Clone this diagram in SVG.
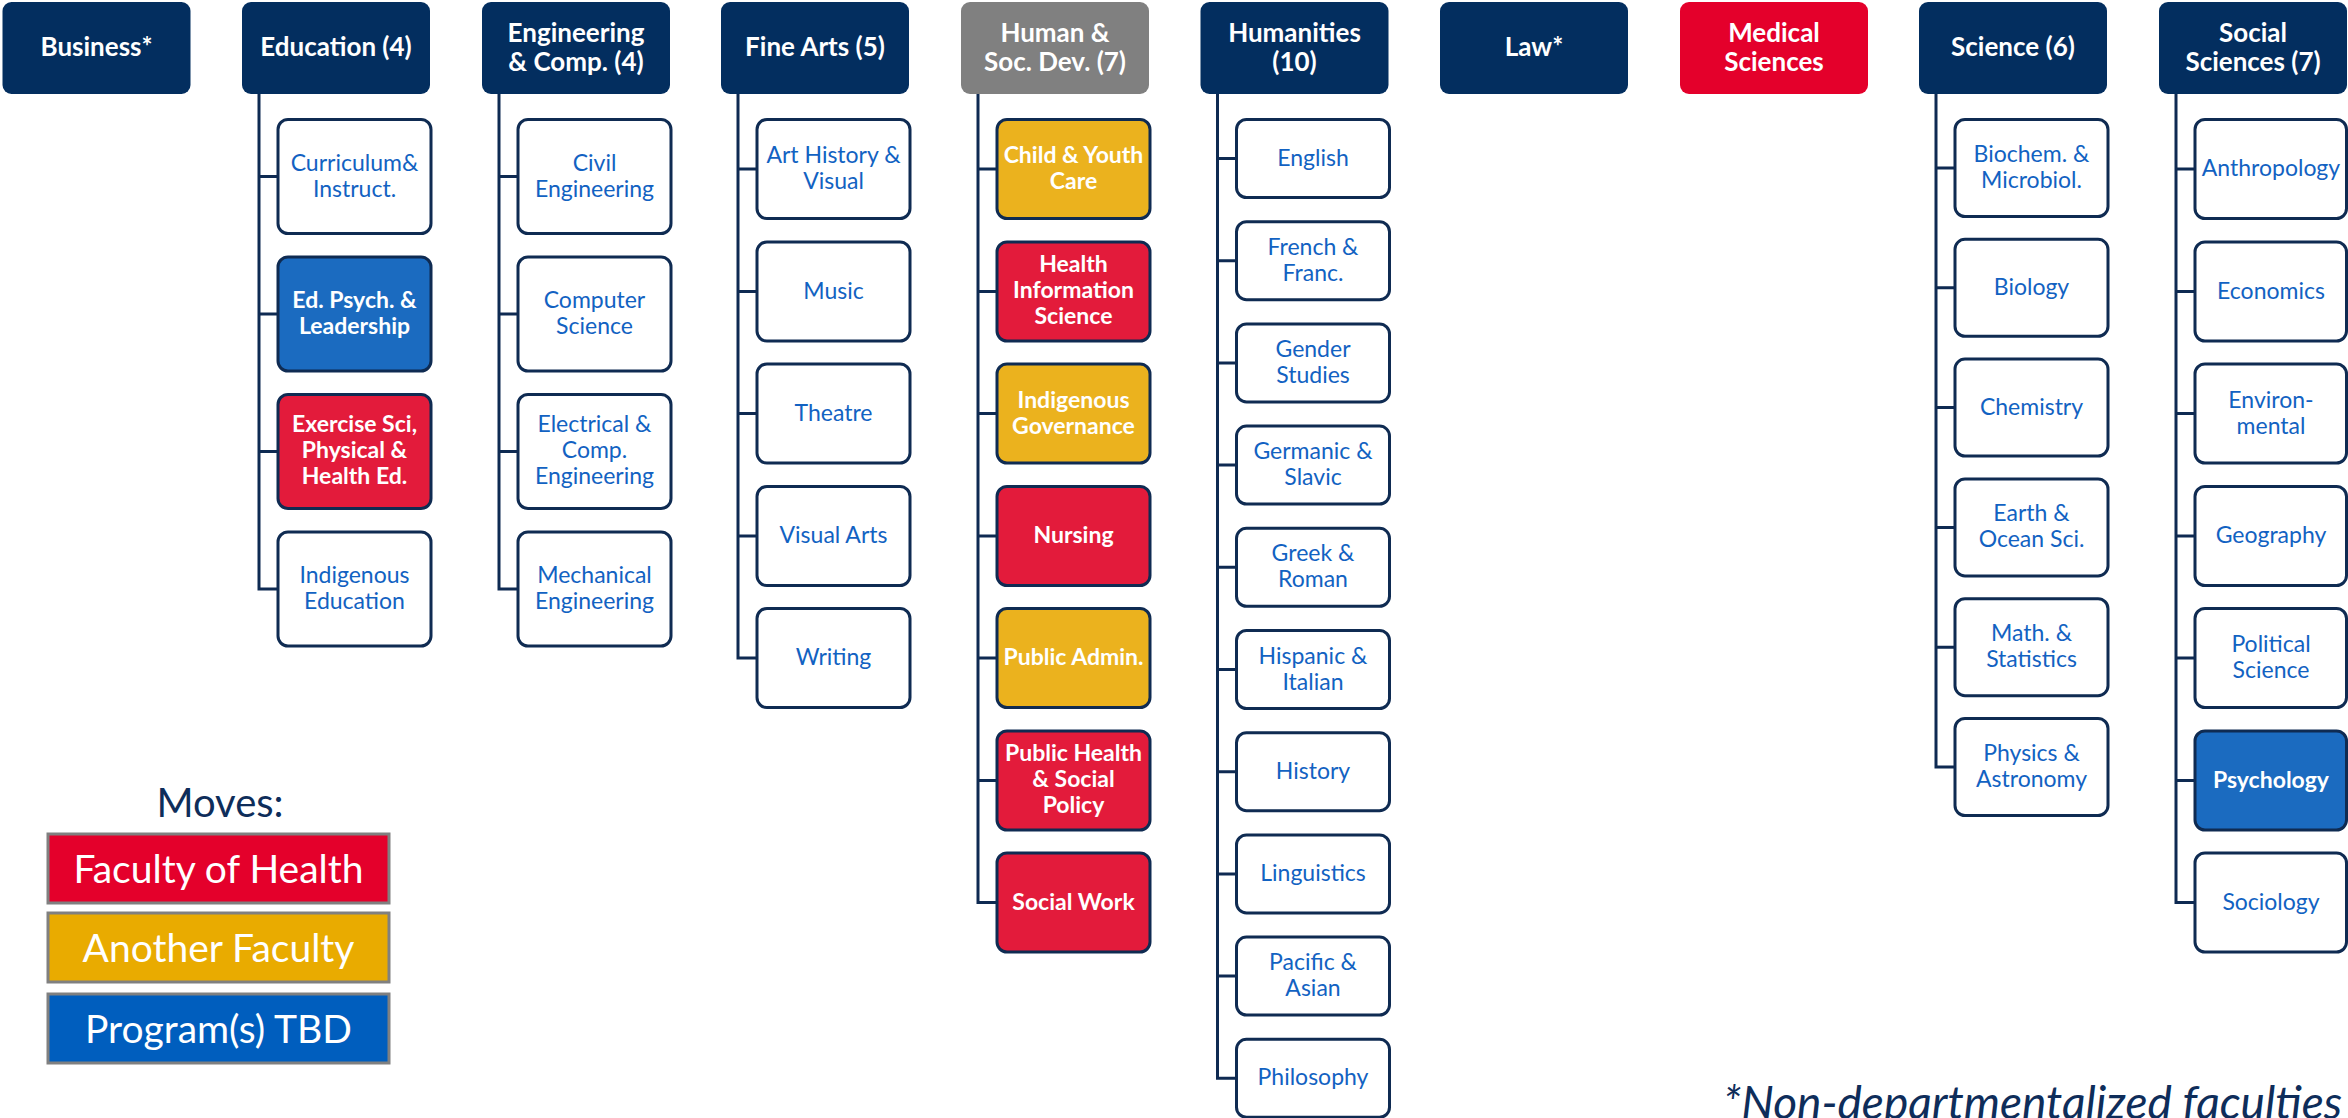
<svg xmlns="http://www.w3.org/2000/svg" width="2348" height="1118" viewBox="0 0 2348 1118">
<style>
.top rect{stroke:none}
.navy{fill:#032e5f}
.gray{fill:#808080}
.med{fill:#e4002b}
.tt{font-family:Lato,"Liberation Sans",sans-serif;font-weight:bold;font-size:26px;fill:#ffffff;text-anchor:middle}
.c rect{stroke:#0f2b52;stroke-width:3}
.w{fill:#ffffff}
.r{fill:#e31b3b}
.g{fill:#ebb21e}
.b{fill:#1b6bc0}
.ct{font-family:Lato,"Liberation Sans",sans-serif;font-size:23px;fill:#1262c2;text-anchor:middle}
.cb{font-family:Lato,"Liberation Sans",sans-serif;font-size:23px;font-weight:bold;fill:#ffffff;text-anchor:middle}
.conn path{fill:none;stroke:#0e2a52;stroke-width:3}
.lg rect{stroke:#808080;stroke-width:3}
.lt{font-family:Lato,"Liberation Sans",sans-serif;font-size:39px;fill:#ffffff;text-anchor:middle}
</style>
<rect x="0" y="0" width="2348" height="1118" fill="#ffffff"/>

<g id="connectors" class="conn">
<path d="M259,94 V589 H278 M259,176.5 H278 M259,314 H278 M259,451.5 H278"/>
<path d="M499,94 V589 H518 M499,176.5 H518 M499,314 H518 M499,451.5 H518"/>
<path d="M738,94 V658 H757 M738,169 H757 M738,291.5 H757 M738,413.5 H757 M738,536 H757"/>
<path d="M978,94 V902.5 H997 M978,169 H997 M978,291.5 H997 M978,413.5 H997 M978,536 H997 M978,658 H997 M978,780.5 H997"/>
<path d="M1217.5,94 V1078.3 H1236.5 M1217.5,158.5 H1236.5 M1217.5,260.7 H1236.5 M1217.5,362.9 H1236.5 M1217.5,465.1 H1236.5 M1217.5,567.3 H1236.5 M1217.5,669.5 H1236.5 M1217.5,771.7 H1236.5 M1217.5,873.9 H1236.5 M1217.5,976.1 H1236.5"/>
<path d="M1936,94 V767 H1955 M1936,168 H1955 M1936,287.8 H1955 M1936,407.6 H1955 M1936,527.4 H1955 M1936,647.2 H1955"/>
<path d="M2176,94 V902.5 H2195 M2176,169 H2195 M2176,291.5 H2195 M2176,413.5 H2195 M2176,536 H2195 M2176,658 H2195 M2176,780.5 H2195"/>
</g>

<!-- Top faculty boxes -->
<g id="business" class="top"><rect class="navy" x="2.5" y="2" width="188" height="92" rx="9"/><text class="tt" x="96.5" y="56">Business*</text></g>
<g id="education" class="top"><rect class="navy" x="242" y="2" width="188" height="92" rx="9"/><text class="tt" x="336" y="56">Education (4)</text></g>
<g id="engineering" class="top"><rect class="navy" x="482" y="2" width="188" height="92" rx="9"/><text class="tt" x="576" y="42">Engineering</text><text class="tt" x="576" y="71">&amp; Comp. (4)</text></g>
<g id="finearts" class="top"><rect class="navy" x="721" y="2" width="188" height="92" rx="9"/><text class="tt" x="815" y="56">Fine Arts (5)</text></g>
<g id="hsd" class="top"><rect class="gray" x="961" y="2" width="188" height="92" rx="9"/><text class="tt" x="1055" y="42">Human &amp;</text><text class="tt" x="1055" y="71">Soc. Dev. (7)</text></g>
<g id="humanities" class="top"><rect class="navy" x="1200.5" y="2" width="188" height="92" rx="9"/><text class="tt" x="1294.5" y="42">Humanities</text><text class="tt" x="1294.5" y="71">(10)</text></g>
<g id="law" class="top"><rect class="navy" x="1440" y="2" width="188" height="92" rx="9"/><text class="tt" x="1534" y="56">Law*</text></g>
<g id="medical" class="top"><rect class="med" x="1680" y="2" width="188" height="92" rx="9"/><text class="tt" x="1774" y="42">Medical</text><text class="tt" x="1774" y="71">Sciences</text></g>
<g id="science" class="top"><rect class="navy" x="1919" y="2" width="188" height="92" rx="9"/><text class="tt" x="2013" y="56">Science (6)</text></g>
<g id="socsci" class="top"><rect class="navy" x="2159" y="2" width="188" height="92" rx="9"/><text class="tt" x="2253" y="42">Social</text><text class="tt" x="2253" y="71">Sciences (7)</text></g>

<!-- Education -->
<g id="edu-curr" class="c"><rect class="w" x="278" y="119.5" width="153" height="114" rx="10"/><text class="ct" x="354.5" y="170.5">Curriculum&amp;</text><text class="ct" x="354.5" y="196.5">Instruct.</text></g>
<g id="edu-psych" class="c"><rect class="b" x="278" y="257" width="153" height="114" rx="10"/><text class="cb" x="354.5" y="308">Ed. Psych. &amp;</text><text class="cb" x="354.5" y="334">Leadership</text></g>
<g id="edu-exsci" class="c"><rect class="r" x="278" y="394.5" width="153" height="114" rx="10"/><text class="cb" x="354.5" y="432">Exercise Sci,</text><text class="cb" x="354.5" y="458">Physical &amp;</text><text class="cb" x="354.5" y="484">Health Ed.</text></g>
<g id="edu-indig" class="c"><rect class="w" x="278" y="532" width="153" height="114" rx="10"/><text class="ct" x="354.5" y="583">Indigenous</text><text class="ct" x="354.5" y="609">Education</text></g>

<!-- Engineering -->
<g id="eng-civil" class="c"><rect class="w" x="518" y="119.5" width="153" height="114" rx="10"/><text class="ct" x="594.5" y="170.5">Civil</text><text class="ct" x="594.5" y="196.5">Engineering</text></g>
<g id="eng-cs" class="c"><rect class="w" x="518" y="257" width="153" height="114" rx="10"/><text class="ct" x="594.5" y="308">Computer</text><text class="ct" x="594.5" y="334">Science</text></g>
<g id="eng-ece" class="c"><rect class="w" x="518" y="394.5" width="153" height="114" rx="10"/><text class="ct" x="594.5" y="432">Electrical &amp;</text><text class="ct" x="594.5" y="458">Comp.</text><text class="ct" x="594.5" y="484">Engineering</text></g>
<g id="eng-mech" class="c"><rect class="w" x="518" y="532" width="153" height="114" rx="10"/><text class="ct" x="594.5" y="583">Mechanical</text><text class="ct" x="594.5" y="609">Engineering</text></g>

<!-- Fine Arts -->
<g id="fa-arthist" class="c"><rect class="w" x="757" y="119.5" width="153" height="99" rx="10"/><text class="ct" x="833.5" y="163">Art History &amp;</text><text class="ct" x="833.5" y="189">Visual</text></g>
<g id="fa-music" class="c"><rect class="w" x="757" y="242" width="153" height="99" rx="10"/><text class="ct" x="833.5" y="298.5">Music</text></g>
<g id="fa-theatre" class="c"><rect class="w" x="757" y="364" width="153" height="99" rx="10"/><text class="ct" x="833.5" y="420.5">Theatre</text></g>
<g id="fa-visual" class="c"><rect class="w" x="757" y="486.5" width="153" height="99" rx="10"/><text class="ct" x="833.5" y="543">Visual Arts</text></g>
<g id="fa-writing" class="c"><rect class="w" x="757" y="608.5" width="153" height="99" rx="10"/><text class="ct" x="833.5" y="665">Writing</text></g>

<!-- Human & Social Development -->
<g id="hsd-cyc" class="c"><rect class="g" x="997" y="119.5" width="153" height="99" rx="10"/><text class="cb" x="1073.5" y="163">Child &amp; Youth</text><text class="cb" x="1073.5" y="189">Care</text></g>
<g id="hsd-his" class="c"><rect class="r" x="997" y="242" width="153" height="99" rx="10"/><text class="cb" x="1073.5" y="272">Health</text><text class="cb" x="1073.5" y="298">Information</text><text class="cb" x="1073.5" y="324">Science</text></g>
<g id="hsd-igov" class="c"><rect class="g" x="997" y="364" width="153" height="99" rx="10"/><text class="cb" x="1073.5" y="407.5">Indigenous</text><text class="cb" x="1073.5" y="433.5">Governance</text></g>
<g id="hsd-nursing" class="c"><rect class="r" x="997" y="486.5" width="153" height="99" rx="10"/><text class="cb" x="1073.5" y="543">Nursing</text></g>
<g id="hsd-padmin" class="c"><rect class="g" x="997" y="608.5" width="153" height="99" rx="10"/><text class="cb" x="1073.5" y="665">Public Admin.</text></g>
<g id="hsd-phsp" class="c"><rect class="r" x="997" y="731" width="153" height="99" rx="10"/><text class="cb" x="1073.5" y="761">Public Health</text><text class="cb" x="1073.5" y="787">&amp; Social</text><text class="cb" x="1073.5" y="813">Policy</text></g>
<g id="hsd-sw" class="c"><rect class="r" x="997" y="853" width="153" height="99" rx="10"/><text class="cb" x="1073.5" y="909.5">Social Work</text></g>

<!-- Humanities -->
<g id="hum-english" class="c"><rect class="w" x="1236.5" y="119.5" width="153" height="78" rx="10"/><text class="ct" x="1313" y="165.5">English</text></g>
<g id="hum-french" class="c"><rect class="w" x="1236.5" y="221.7" width="153" height="78" rx="10"/><text class="ct" x="1313" y="254.7">French &amp;</text><text class="ct" x="1313" y="280.7">Franc.</text></g>
<g id="hum-gender" class="c"><rect class="w" x="1236.5" y="323.9" width="153" height="78" rx="10"/><text class="ct" x="1313" y="356.9">Gender</text><text class="ct" x="1313" y="382.9">Studies</text></g>
<g id="hum-germanic" class="c"><rect class="w" x="1236.5" y="426.1" width="153" height="78" rx="10"/><text class="ct" x="1313" y="459.1">Germanic &amp;</text><text class="ct" x="1313" y="485.1">Slavic</text></g>
<g id="hum-greek" class="c"><rect class="w" x="1236.5" y="528.3" width="153" height="78" rx="10"/><text class="ct" x="1313" y="561.3">Greek &amp;</text><text class="ct" x="1313" y="587.3">Roman</text></g>
<g id="hum-hispanic" class="c"><rect class="w" x="1236.5" y="630.5" width="153" height="78" rx="10"/><text class="ct" x="1313" y="663.5">Hispanic &amp;</text><text class="ct" x="1313" y="689.5">Italian</text></g>
<g id="hum-history" class="c"><rect class="w" x="1236.5" y="732.7" width="153" height="78" rx="10"/><text class="ct" x="1313" y="778.7">History</text></g>
<g id="hum-ling" class="c"><rect class="w" x="1236.5" y="834.9" width="153" height="78" rx="10"/><text class="ct" x="1313" y="880.9">Linguistics</text></g>
<g id="hum-pacific" class="c"><rect class="w" x="1236.5" y="937.1" width="153" height="78" rx="10"/><text class="ct" x="1313" y="970.1">Pacific &amp;</text><text class="ct" x="1313" y="996.1">Asian</text></g>
<g id="hum-phil" class="c"><rect class="w" x="1236.5" y="1039.3" width="153" height="78" rx="10"/><text class="ct" x="1313" y="1085.3">Philosophy</text></g>

<!-- Science -->
<g id="sci-biochem" class="c"><rect class="w" x="1955" y="119.5" width="153" height="97" rx="10"/><text class="ct" x="2031.5" y="162">Biochem. &amp;</text><text class="ct" x="2031.5" y="188">Microbiol.</text></g>
<g id="sci-bio" class="c"><rect class="w" x="1955" y="239.3" width="153" height="97" rx="10"/><text class="ct" x="2031.5" y="294.8">Biology</text></g>
<g id="sci-chem" class="c"><rect class="w" x="1955" y="359.1" width="153" height="97" rx="10"/><text class="ct" x="2031.5" y="414.6">Chemistry</text></g>
<g id="sci-earth" class="c"><rect class="w" x="1955" y="478.9" width="153" height="97" rx="10"/><text class="ct" x="2031.5" y="521.4">Earth &amp;</text><text class="ct" x="2031.5" y="547.4">Ocean Sci.</text></g>
<g id="sci-math" class="c"><rect class="w" x="1955" y="598.7" width="153" height="97" rx="10"/><text class="ct" x="2031.5" y="641.2">Math. &amp;</text><text class="ct" x="2031.5" y="667.2">Statistics</text></g>
<g id="sci-phys" class="c"><rect class="w" x="1955" y="718.5" width="153" height="97" rx="10"/><text class="ct" x="2031.5" y="761">Physics &amp;</text><text class="ct" x="2031.5" y="787">Astronomy</text></g>

<!-- Social Sciences -->
<g id="ss-anth" class="c"><rect class="w" x="2195" y="119.5" width="151.5" height="99" rx="10"/><text class="ct" x="2271" y="176">Anthropology</text></g>
<g id="ss-econ" class="c"><rect class="w" x="2195" y="242" width="151.5" height="99" rx="10"/><text class="ct" x="2271" y="298.5">Economics</text></g>
<g id="ss-env" class="c"><rect class="w" x="2195" y="364" width="151.5" height="99" rx="10"/><text class="ct" x="2271" y="407.5">Environ-</text><text class="ct" x="2271" y="433.5">mental</text></g>
<g id="ss-geog" class="c"><rect class="w" x="2195" y="486.5" width="151.5" height="99" rx="10"/><text class="ct" x="2271" y="543">Geography</text></g>
<g id="ss-poli" class="c"><rect class="w" x="2195" y="608.5" width="151.5" height="99" rx="10"/><text class="ct" x="2271" y="652">Political</text><text class="ct" x="2271" y="678">Science</text></g>
<g id="ss-psych" class="c"><rect class="b" x="2195" y="731" width="151.5" height="99" rx="10"/><text class="cb" x="2271" y="787.5">Psychology</text></g>
<g id="ss-soc" class="c"><rect class="w" x="2195" y="853" width="151.5" height="99" rx="10"/><text class="ct" x="2271" y="909.5">Sociology</text></g>

<!-- Legend -->
<g id="legend" class="lg">
<text x="220" y="817" font-family="Lato, 'Liberation Sans', sans-serif" font-size="40" fill="#0e2d5a" text-anchor="middle">Moves:</text>
<rect x="48" y="834" width="341" height="69" fill="#e4002b"/><text class="lt" x="218.5" y="882.5">Faculty of Health</text>
<rect x="48" y="913" width="341" height="69" fill="#e9ab00"/><text class="lt" x="218.5" y="961.5">Another Faculty</text>
<rect x="48" y="994" width="341" height="69" fill="#005ebe"/><text class="lt" x="218.5" y="1042.5">Program(s) TBD</text>
</g>

<g id="footnote">
<text x="1723" y="1119" font-family="Lato, 'Liberation Sans', sans-serif" font-style="italic" font-size="46" fill="#0e2d5a">*Non-departmentalized faculties</text>
</g>
</svg>
